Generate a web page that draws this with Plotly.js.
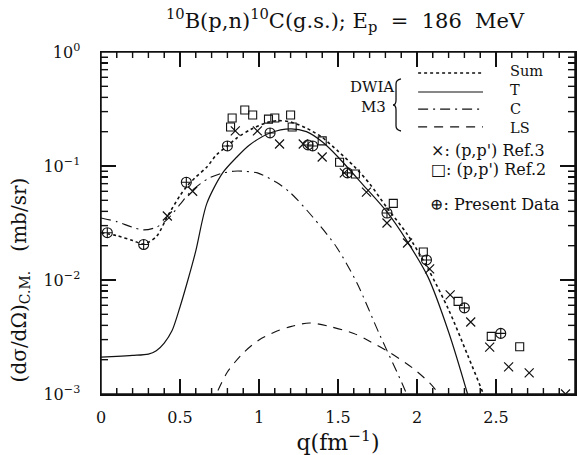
<!DOCTYPE html>
<html><head><meta charset="utf-8">
<script src="https://cdn.plot.ly/plotly-3.0.1.min.js"></script>
<style>body{margin:0;background:#fff}#c{width:579px;height:455px}</style>
</head><body><div id="c"></div><script>
// DWIA M3 curves
const qSum = [0,0.1,0.2,0.27,0.35,0.42,0.5,0.55,0.6,0.67,0.73,0.8,0.86,0.95,1.05,1.12,1.2,1.3,1.4,1.5,1.6,1.7,1.81,1.94,2.07,2.2,2.32,2.42,2.5];
const vSum = [0.026,0.0245,0.0222,0.0207,0.024,0.036,0.055,0.068,0.08,0.098,0.125,0.15,0.176,0.21,0.24,0.25,0.243,0.215,0.178,0.135,0.1,0.07,0.043,0.025,0.0125,0.0055,0.0022,0.001,0.0005];
const qT = [0,0.1,0.2,0.3,0.35,0.4,0.45,0.5,0.55,0.6,0.67,0.77,0.86,0.94,1.07,1.2,1.3,1.4,1.5,1.66,1.81,1.94,2.07,2.2,2.32,2.4];
const vT = [0.00211,0.00214,0.00218,0.00224,0.0024,0.0028,0.0036,0.0058,0.0100,0.0180,0.047,0.087,0.12,0.153,0.195,0.212,0.2,0.163,0.12,0.068,0.0395,0.0216,0.0106,0.0035,0.001,0.0004];
const qC = [0,0.1,0.2,0.27,0.35,0.42,0.5,0.56,0.63,0.69,0.76,0.84,0.9,0.99,1.11,1.2,1.34,1.49,1.62,1.76,1.91,2.0];
const vC = [0.035,0.0325,0.029,0.0275,0.029,0.034,0.046,0.058,0.07,0.079,0.086,0.09,0.09,0.087,0.072,0.058,0.0357,0.0195,0.0094,0.0034,0.0012,0.0006];
const qLS = [0.7,0.73,0.8,0.9,1.0,1.1,1.2,1.32,1.45,1.6,1.7,1.83,1.97,2.08,2.14,2.2];
const vLS = [0.0008,0.001,0.00156,0.00229,0.00298,0.0035,0.0039,0.0042,0.0039,0.0034,0.0029,0.0023,0.0017,0.00125,0.001,0.0008];
// data points
const qPresent = [0.04,0.27,0.54,0.80,1.07,1.31,1.34,1.56,1.81,2.06,2.30,2.53];
const vPresent = [0.026,0.0205,0.072,0.150,0.195,0.153,0.150,0.087,0.0387,0.015,0.0057,0.0034];
const qRef2 = [0.82,0.83,0.91,0.96,1.06,1.10,1.20,1.21,1.40,1.51,1.61,1.85,2.04,2.26,2.47,2.65];
const vRef2 = [0.22,0.264,0.31,0.28,0.258,0.264,0.28,0.22,0.166,0.108,0.085,0.047,0.0176,0.0065,0.0032,0.0026];
const qRef3 = [0.42,0.58,0.85,0.99,1.13,1.28,1.40,1.54,1.68,1.81,1.94,2.08,2.21,2.34,2.46,2.58,2.71,2.94];
const vRef3 = [0.0364,0.060,0.203,0.203,0.156,0.156,0.12,0.087,0.059,0.0316,0.0211,0.0125,0.0074,0.00428,0.00258,0.00173,0.00153,0.001];
// tick labels
const yTickVals = [0.001,0.01,0.1,1];
const yTickText = ['10<sup>−3</sup>','10<sup>−2</sup>','10<sup>−1</sup>','10<sup>0</sup>'];
const xTickVals = [0,0.5,1,1.5,2,2.5,3];
const xTickText = ['0','0.5','1','1.5','2','2.5','3'];

const FONT = 'DejaVu Serif';
const INK = '#111';
const xRange = [0,3], yRange = [-3,0];
const WIDTH = 579, HEIGHT = 455, MARG = {l:101, r:4, t:52, b:61};
const plotW = WIDTH - MARG.l - MARG.r, plotH = HEIGHT - MARG.t - MARG.b;

const curve = (x,y,dash,w) => ({x, y, mode:'lines', type:'scatter', line:{color:INK, width:w||1.3, dash, shape:'spline', smoothing:0.8}, showlegend:false, hoverinfo:'skip'});

// inside tick marks on all four sides, built from the axis ranges
const tickX = [], tickY = [];
const pxPerX = plotW / (xRange[1]-xRange[0]);
const pxPerDec = plotH / (yRange[1]-yRange[0]);
function xTick(v, len){
  const dl = len / pxPerDec;
  tickX.push(v, v, null, v, v, null);
  tickY.push(Math.pow(10,yRange[0]), Math.pow(10,yRange[0]+dl), null, Math.pow(10,yRange[1]), Math.pow(10,yRange[1]-dl), null);
}
function yTick(v, len){
  const dl = len / pxPerX;
  tickX.push(xRange[0], xRange[0]+dl, null, xRange[1], xRange[1]-dl, null);
  tickY.push(v, v, null, v, v, null);
}
for (let i=1;i<30;i++) xTick(i/10, i%5===0 ? 15 : 6);
const minorY = [];
for (let k=-3;k<0;k++) {
  if (k>-3) yTick(Math.pow(10,k), 15);
  for (let m=2;m<10;m++) { yTick(m*Math.pow(10,k), 7); minorY.push(m*Math.pow(10,k)); }
}

const traces = [
  curve(qSum, vSum, 'dot', 1.6),
  curve(qT, vT, 'solid', 1.2),
  curve(qC, vC, '10px,5px,2px,5px', 1.1),
  curve(qLS, vLS, '9px,7px', 1.1),
  {x:qRef3, y:vRef3, mode:'markers', type:'scatter', showlegend:false,
   marker:{symbol:'x-thin-open', size:9, color:INK, line:{color:INK, width:1.2}}},
  {x:qRef2, y:vRef2, mode:'markers', type:'scatter', showlegend:false,
   marker:{symbol:'square-open', size:8, color:INK, line:{color:INK, width:1.1}}},
  {x:qPresent, y:vPresent, mode:'markers', type:'scatter', showlegend:false,
   marker:{symbol:'circle-cross-open', size:10, color:INK, line:{color:INK, width:1.1}}},
  {x:tickX, y:tickY, mode:'lines', type:'scatter', line:{color:INK, width:1.4}, showlegend:false}
];

// frame, legend line samples and brace
const shapes = [{type:'rect', xref:'paper', yref:'paper', x0:0, x1:1, y0:0, y1:1, line:{color:INK, width:1.5}}];
const lx0 = 0.669, lx1 = 0.806;
const legY = [0.9386, 0.883, 0.833, 0.781];
const legDash = ['dot','solid','10px,5px,2px,5px','9px,7px'];
const legText = ['Sum','T','C','LS'];
legY.forEach((y,i)=>shapes.push({type:'line', xref:'paper', yref:'paper', x0:lx0, x1:lx1, y0:y, y1:y,
  line:{color:INK, width: i===0?1.6:1.1, dash:legDash[i]}}));
shapes.push({type:'path', xref:'paper', yref:'paper', line:{color:INK, width:1.3},
  path:'M0.6329,0.9211 Q0.6224,0.9180 0.6224,0.9064 L0.6224,0.8596 Q0.6224,0.8450 0.6160,0.8450 Q0.6224,0.8450 0.6224,0.8304 L0.6224,0.7836 Q0.6224,0.7720 0.6329,0.7690'});

const ann = [];
ann.push({xref:'paper', yref:'paper', x:0.859, y:(legY[0]+legY[3])/2, text:legText.join('<br>'), showarrow:false, align:'left',
  xanchor:'left', yanchor:'middle', font:{family:FONT, size:14.5, color:INK}});
ann.push({xref:'paper', yref:'paper', x:0.571, y:0.898, text:'DWIA', showarrow:false, xanchor:'center', yanchor:'middle', font:{family:FONT, size:15, color:INK}});
ann.push({xref:'paper', yref:'paper', x:0.574, y:0.839, text:'M3', showarrow:false, xanchor:'center', yanchor:'middle', font:{family:FONT, size:15, color:INK}});
ann.push({xref:'paper', yref:'paper', x:0.692, y:0.713, text:"×: (p,p') Ref.3", showarrow:false, xanchor:'left', yanchor:'middle', font:{family:FONT, size:16, color:INK}});
ann.push({xref:'paper', yref:'paper', x:0.692, y:0.655, text:"□: (p,p') Ref.2", showarrow:false, xanchor:'left', yanchor:'middle', font:{family:FONT, size:16, color:INK}});
ann.push({xref:'paper', yref:'paper', x:0.690, y:0.553, text:"⊕: Present Data", showarrow:false, xanchor:'left', yanchor:'middle', font:{family:FONT, size:16, color:INK}});
ann.push({xref:'paper', yref:'paper', x:-0.171, y:0.335, text:'(dσ/dΩ)<sub>C.M.</sub>\u00a0 \u00a0(mb/sr)', textangle:-90, showarrow:false,
  xanchor:'center', yanchor:'middle', font:{family:FONT, size:20, color:INK}});

const layout = {
  width:WIDTH, height:HEIGHT,
  margin:MARG,
  paper_bgcolor:'#fff', plot_bgcolor:'#fff',
  title:{text:'<sup>10</sup>B(p,n)<sup>10</sup>C(g.s.); E<sub>p</sub>\u00a0 = \u00a0186\u00a0 MeV', x:0.596, xanchor:'center', y:0.955, yanchor:'middle', yref:'container', font:{family:FONT, size:21, color:INK}},
  xaxis:{range:xRange, tickmode:'array', tickvals:xTickVals, ticktext:xTickText,
    ticks:'inside', ticklen:15, tickwidth:1.3, tickcolor:INK,
    minor:{dtick:0.1, tick0:0, ticks:'inside', ticklen:6, tickwidth:1.2, tickcolor:INK, showgrid:false},
    showline:true, linecolor:INK, linewidth:1.5, mirror:'allticks', showgrid:false, zeroline:false,
    tickfont:{family:FONT, size:16, color:INK}, ticklabelstandoff:8,
    title:{text:'q(fm<sup>−1</sup>)', font:{family:FONT, size:22, color:INK}, standoff:8}},
  yaxis:{type:'log', range:yRange, tickmode:'array', tickvals:yTickVals, ticktext:yTickText,
    ticks:'inside', ticklen:15, tickwidth:1.3, tickcolor:INK,
    minor:{tickmode:'array', tickvals:minorY, ticks:'inside', ticklen:7, tickwidth:1.2, tickcolor:INK, showgrid:false},
    showline:true, linecolor:INK, linewidth:1.5, mirror:'allticks', showgrid:false, zeroline:false,
    tickfont:{family:FONT, size:16, color:INK}, ticklabelstandoff:16},
  shapes, annotations:ann
};
Plotly.newPlot('c', traces, layout, {staticPlot:true});
</script></body></html>
